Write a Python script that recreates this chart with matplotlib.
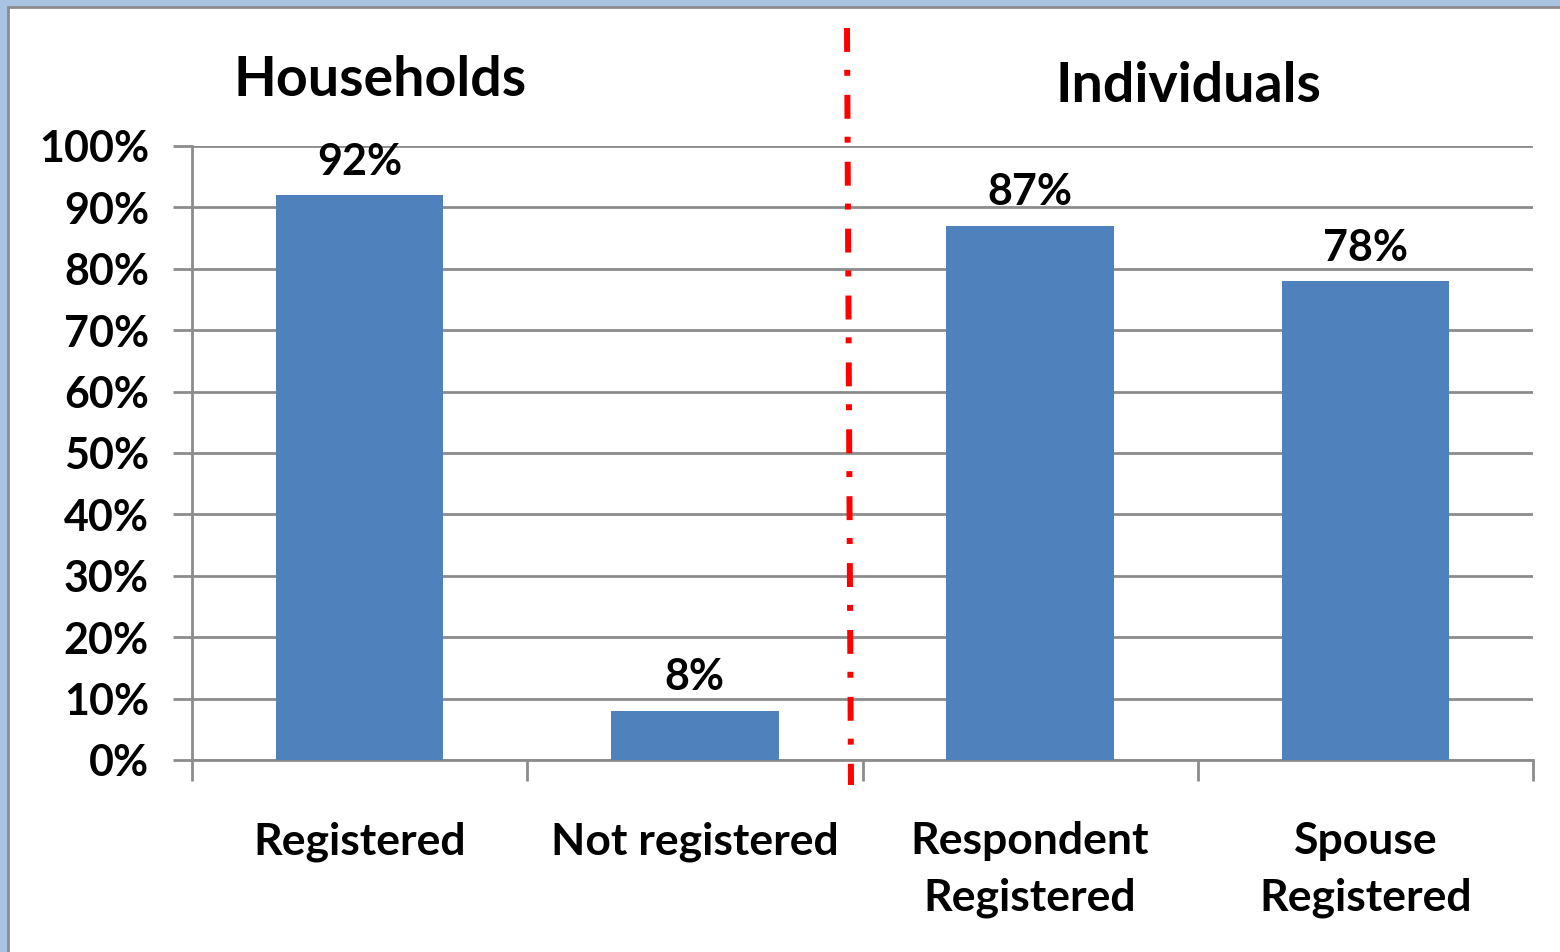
import matplotlib.pyplot as plt
from matplotlib.patches import Rectangle
from matplotlib.lines import Line2D

categories = ['Registered', 'Not registered', 'Respondent\nRegistered', 'Spouse\nRegistered']
values = [92, 8, 87, 78]
labels = ['92%', '8%', '87%', '78%']
yticks = [0, 10, 20, 30, 40, 50, 60, 70, 80, 90, 100]

plt.rcParams['font.family'] = ['Lato', 'DejaVu Sans']

W, H = 1560, 952
fig = plt.figure(figsize=(W / 100, H / 100), dpi=100)
fig.patch.set_facecolor('#a9c4e2')

# white chart area with grey frame
fig.patches.append(Rectangle((8 / W, -0.1), 1.1, (H - 7) / H + 0.1, transform=fig.transFigure,
                             facecolor='white', edgecolor='#8c8c8c', linewidth=2, zorder=-1))

ax = fig.add_axes([192 / W, (H - 760) / H, (1533 - 192) / W, (760 - 146) / H])
ax.set_facecolor('none')

x = list(range(len(categories)))
ax.bar(x, values, width=0.5, color='#4f81bd', zorder=3)
for xi, v, lab in zip(x, values, labels):
    ax.text(xi, v + 2.2, lab, ha='center', va='bottom', fontsize=31, fontweight='bold')

ax.set_xlim(-0.5, 3.5)
ax.set_ylim(0, 100)
ax.set_yticks(yticks)
ax.set_yticklabels([f'{t}%' for t in yticks], fontsize=31, fontweight='bold')
ax.yaxis.grid(True, color='#8c8c8c', linewidth=2)
ax.set_axisbelow(True)

ax.set_xticks([-0.5, 0.5, 1.5, 2.5, 3.5])
ax.set_xticklabels([])
ax.set_xticks(x, minor=True)
ax.set_xticklabels(categories, minor=True, fontsize=32, fontweight='bold', linespacing=1.5)
ax.tick_params(axis='x', which='minor', length=0, pad=44)
ax.tick_params(axis='x', which='major', length=15, width=2, color='#8c8c8c')
ax.tick_params(axis='y', length=14, width=2, color='#8c8c8c', pad=17)
for lab in ax.get_xticklabels(minor=True):
    lab.set_verticalalignment('top')

for s in ['top', 'right']:
    ax.spines[s].set_visible(False)
for s in ['left', 'bottom']:
    ax.spines[s].set_color('#8c8c8c')
    ax.spines[s].set_linewidth(2)

fig.text(380 / W, 1 - 80 / H, 'Households', ha='center', va='center', fontsize=40, fontweight='bold')
fig.text(1188 / W, 1 - 86 / H, 'Individuals', ha='center', va='center', fontsize=40, fontweight='bold')

# red dash-dot separator
fig.lines.append(Line2D([847 / W, 851 / W], [1 - 28 / H, 1 - 785 / H], transform=fig.transFigure,
                        color='red', linewidth=4.3, dashes=(4.0, 3.0, 1.0, 3.2), zorder=5))

fig.savefig('out.png', dpi=100, facecolor=fig.get_facecolor())
